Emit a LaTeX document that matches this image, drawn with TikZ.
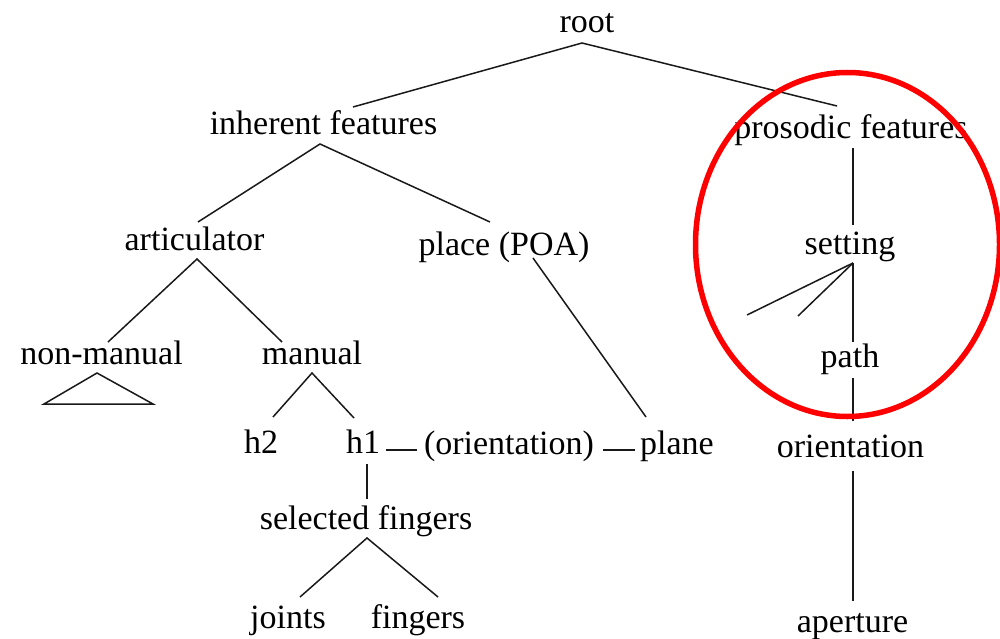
\documentclass[tikz,border=0pt]{standalone}
\usepackage{fontspec}
\setmainfont{Liberation Serif}
\usetikzlibrary{calc}
\begin{document}
\begin{tikzpicture}[x=1pt,y=-1pt,
  lbl/.style={anchor=base,inner sep=0pt,font=\fontsize{34}{40}\selectfont},
  edge/.style={draw=black!90,line width=1.5pt},
  redring/.style={draw=red,line width=5.5pt}]
\useasboundingbox (0,0) rectangle (1000,639);
\clip (0,0) rectangle (1000,639);
% nodes
\node[lbl] (root) at (587,33) {root};
\node[lbl] (inh) at (323.5,135) {inherent features};
\node[lbl] (pros) at (851,139) {prosodic features};
\node[lbl] (art) at (194.5,250) {articulator};
\node[lbl] (place) at (504,255) {place (POA)};
\node[lbl] (set) at (850,254) {setting};
\node[lbl] (nonman) at (101.5,364) {non-manual};
\node[lbl] (man) at (312,364) {manual};
\node[lbl] (path) at (850,367) {path};
\node[lbl] (h2) at (261,453) {h2};
\node[lbl] (h1) at (363,453) {h1};
\node[lbl] (orA) at (509,454) {(orientation)};
\node[lbl] (plane) at (677,454) {plane};
\node[lbl] (orB) at (850.5,457) {orientation};
\node[lbl] (sel) at (366,529) {selected fingers};
\node[lbl] (joints) at (288,628) {joints};
\node[lbl] (fing) at (418,628) {fingers};
\node[lbl] (aper) at (852.5,632) {aperture};
\coordinate (fanA) at (747,315);
\coordinate (fanB) at (798,316);
% connectors
\draw[edge] ($(inh.base)+(29.5,-28)$) -- ($(root.base)+(-5,10)$) -- ($(pros.base)+(-14,-33)$);
\draw[edge] ($(art.base)+(3.5,-28)$) -- ($(inh.base)+(-3.5,9)$) -- ($(place.base)+(-14,-33)$);
\draw[edge] ($(nonman.base)+(6.5,-22)$) -- ($(art.base)+(2.5,9)$) -- ($(man.base)+(-30,-22)$);
\draw[edge] ($(nonman.base)+(-4.5,9)$) -- ++(-53,31) -- ++(109,0) -- cycle;
\draw[edge] ($(h2.base)+(12,-36)$) -- ($(man.base)+(0,9)$) -- ($(h1.base)+(-9,-35)$);
\draw[edge] ($(h1.base)+(4,11)$) -- ($(sel.base)+(1,-30)$);
\draw[edge] ($(joints.base)+(12,-31)$) -- ($(sel.base)+(1,9)$) -- ($(fing.base)+(20,-31)$);
\draw[edge] ($(h1.base)+(23,-3)$) -- ($(orA.base)+(-92,-4)$);
\draw[edge] ($(orA.base)+(94,-4)$) -- ($(plane.base)+(-42,-4)$);
\draw[edge] ($(place.base)+(29,3)$) -- ($(plane.base)+(-31,-37)$);
\draw[edge] ($(pros.base)+(2,9)$) -- ($(set.base)+(3,-29)$);
\draw[edge] ($(set.base)+(3,9)$) -- ($(path.base)+(3,-25)$);
\draw[edge] ($(set.base)+(3,9)$) -- (fanA);
\draw[edge] ($(set.base)+(3,9)$) -- (fanB);
\draw[edge] ($(path.base)+(3,11)$) -- ($(orB.base)+(2.5,-36)$);
\draw[edge] ($(orB.base)+(2.5,14)$) -- ($(aper.base)+(0.5,-31)$);
% highlight
\draw[redring] (847.5,244.5) ellipse [x radius=152,y radius=172];
\end{tikzpicture}
\end{document}
